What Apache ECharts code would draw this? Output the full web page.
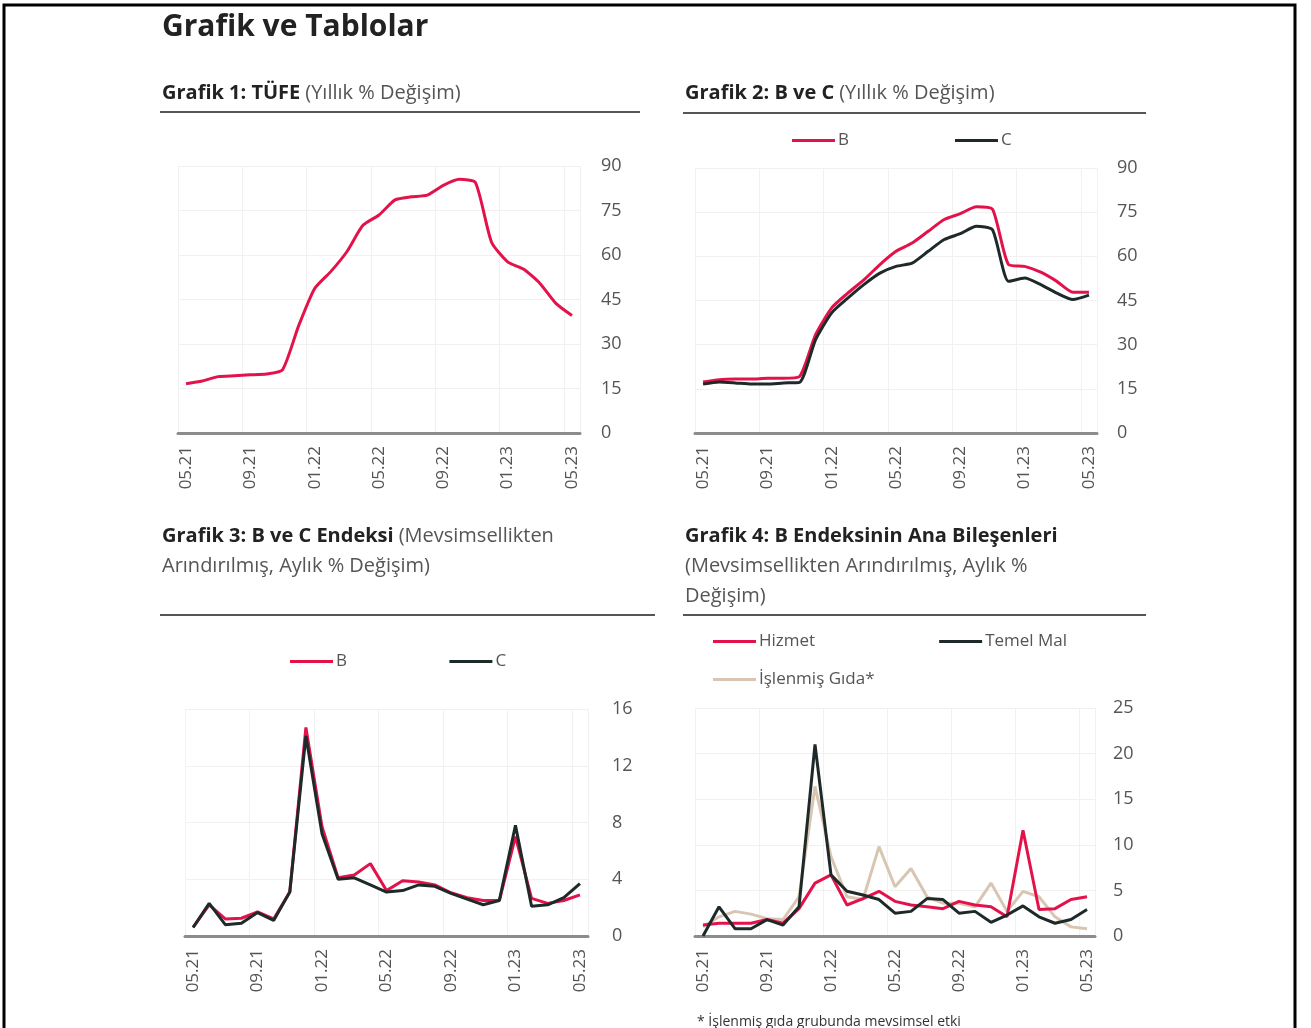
<!DOCTYPE html>
<html>
<head>
<meta charset="utf-8">
<script src="https://cdn.jsdelivr.net/npm/echarts@6/dist/echarts.min.js"></script>
<style>
  html, body { margin: 0; padding: 0; background: #fff; }
  #main { width: 1311px; height: 1028px; }
</style>
</head>
<body>
<div id="main"></div>
<script>
// aylar 05.21 - 05.23
var months = ['05.21','06.21','07.21','08.21','09.21','10.21','11.21','12.21',
              '01.22','02.22','03.22','04.22','05.22','06.22','07.22','08.22',
              '09.22','10.22','11.22','12.22','01.23','02.23','03.23','04.23','05.23'];

// Grafik 1: TÜFE yıllık
var tufe = [16.6, 17.5, 19.0, 19.3, 19.6, 19.9, 21.3, 36.1, 48.7, 54.4, 61.1, 70.0, 73.5,
            78.6, 79.6, 80.2, 83.5, 85.5, 84.4, 64.3, 57.7, 55.2, 50.5, 43.7, 39.6];

// Grafik 2: B ve C yıllık
var bYillik = [17.3, 18.1, 18.3, 18.3, 18.6, 18.6, 19.2, 33.4, 42.5, 47.5, 52.0, 57.2, 61.7,
               64.5, 68.5, 72.5, 74.5, 76.8, 76.0, 57.2, 56.6, 54.6, 51.5, 47.8, 47.8];
var cYillik = [16.6, 17.3, 17.0, 16.6, 16.6, 17.0, 17.2, 31.7, 40.8, 45.8, 50.4, 54.3, 56.6,
               57.7, 61.7, 65.7, 67.7, 70.2, 69.0, 51.5, 52.6, 50.4, 47.5, 45.3, 46.8];

// Grafik 3: B ve C aylık (mevsimsellikten arındırılmış)
var bAylik = [0.6, 2.2, 1.2, 1.25, 1.7, 1.2, 3.1, 14.7, 7.7, 4.1, 4.3, 5.1, 3.2,
              3.9, 3.8, 3.6, 3.05, 2.7, 2.5, 2.5, 7.0, 2.65, 2.3, 2.5, 2.9];
var cAylik = [0.6, 2.3, 0.8, 0.9, 1.65, 1.1, 3.1, 14.1, 7.2, 4.0, 4.1, 3.6, 3.1,
              3.2, 3.6, 3.5, 3.0, 2.6, 2.2, 2.5, 7.8, 2.1, 2.2, 2.7, 3.7];

// Grafik 4: B ana bileşenleri
var hizmet = [1.2, 1.4, 1.4, 1.4, 1.8, 1.4, 3.0, 5.8, 6.7, 3.4, 4.1, 4.9, 3.8,
              3.4, 3.2, 3.0, 3.8, 3.4, 3.2, 2.1, 11.6, 2.9, 3.0, 4.0, 4.3];
var temelMal = [0.0, 3.2, 0.8, 0.8, 1.8, 1.2, 3.2, 21.0, 6.7, 4.9, 4.5, 4.0, 2.5,
                2.7, 4.1, 4.0, 2.5, 2.7, 1.5, 2.3, 3.3, 2.1, 1.4, 1.8, 2.9];
var islenmisGida = [1.0, 2.1, 2.7, 2.4, 1.9, 1.8, 4.3, 16.4, 8.7, 4.3, 4.0, 9.8, 5.4,
                    7.4, 4.3, 3.6, 3.6, 3.2, 5.8, 2.7, 4.9, 4.3, 2.1, 1.0, 0.8];

var RED = '#e3124a';
var DARK = '#1e2a2a';
var TAN = '#d8c6b2';
var FONT = '"Open Sans", "Noto Sans", sans-serif';

var chart = echarts.init(document.getElementById('main'));

function xAx(i) {
    return {
        type: 'category', gridIndex: i, data: months, boundaryGap: true,
        axisLine: { lineStyle: { color: '#8c8c8c', width: 3 } },
        axisTick: { show: false },
        axisLabel: { rotate: 90, interval: 3, fontSize: 17, color: '#555', margin: 13, fontFamily: FONT },
        splitLine: { show: true, interval: 3, lineStyle: { color: '#f1f1f1', width: 1 } }
    };
}
function yAx(i, max, step, margin) {
    return {
        type: 'value', gridIndex: i, position: 'right', min: 0, max: max, interval: step,
        axisLine: { show: false }, axisTick: { show: false },
        axisLabel: { fontSize: 18, color: '#555', margin: margin, fontFamily: FONT },
        splitLine: { lineStyle: { color: '#f1f1f1', width: 1 } }
    };
}
function line(name, data, i, color, smooth) {
    return {
        name: name, type: 'line', xAxisIndex: i, yAxisIndex: i, data: data,
        symbol: 'none', smooth: smooth, lineStyle: { color: color, width: 3 },
        itemStyle: { color: color }, animation: false
    };
}
function legend(names, left, top, gap) {
    return {
        data: names, left: left, top: top, itemGap: gap, icon: 'rect',
        itemWidth: 43, itemHeight: 3,
        textStyle: { fontSize: 17, color: '#555', fontFamily: FONT, padding: [0, 0, 0, -2] }
    };
}
var rich = {
    b: { fontSize: 20, fontWeight: 'bold', color: '#222', fontFamily: FONT, lineHeight: 30 },
    n: { fontSize: 20, fontWeight: 'normal', color: '#555', fontFamily: FONT, lineHeight: 30 }
};
function sep(x1, x2, y) {
    return { type: 'line', shape: { x1: x1, y1: y, x2: x2, y2: y },
             style: { stroke: '#555', lineWidth: 2 } };
}

chart.setOption({
    backgroundColor: '#fff',
    title: [
        { text: 'Grafik ve Tablolar', left: 157, top: 7,
          textStyle: { fontSize: 30, fontWeight: 'bold', color: '#222', fontFamily: FONT } },
        { text: '{b|Grafik 1: TÜFE} {n|(Yıllık % Değişim)}', left: 157, top: 73, textStyle: { rich: rich } },
        { text: '{b|Grafik 2: B ve C} {n|(Yıllık % Değişim)}', left: 680, top: 73, textStyle: { rich: rich } },
        { text: '{b|Grafik 3: B ve C Endeksi} {n|(Mevsimsellikten}\n{n|Arındırılmış, Aylık % Değişim)}',
          left: 157, top: 516, textStyle: { rich: rich } },
        { text: '{b|Grafik 4: B Endeksinin Ana Bileşenleri}\n{n|(Mevsimsellikten Arındırılmış, Aylık %}\n{n|Değişim)}',
          left: 680, top: 516, textStyle: { rich: rich } },
        { text: '* İşlenmiş gıda grubunda mevsimsel etki', left: 692, top: 1010,
          textStyle: { fontSize: 14, fontWeight: 'normal', color: '#333', fontFamily: FONT } }
    ],
    legend: [
        legend(['B', 'C'], 787, 127, 106),
        legend(['B ', 'C '], 285, 648, 98),
        legend(['Hizmet', 'Temel Mal'], 708, 628, 124),
        legend(['İşlenmiş Gıda*'], 708, 666, 10)
    ],
    grid: [
        { left: 178, top: 166, width: 402, height: 267 },
        { left: 695, top: 168, width: 402, height: 265 },
        { left: 185, top: 709, width: 403, height: 227 },
        { left: 695, top: 708, width: 400, height: 228 }
    ],
    xAxis: [xAx(0), xAx(1), xAx(2), xAx(3)],
    yAxis: [yAx(0, 90, 15, 21), yAx(1, 90, 15, 20), yAx(2, 16, 4, 24), yAx(3, 25, 5, 18)],
    series: [
        line('TÜFE', tufe, 0, RED, 0.2),
        line('B', bYillik, 1, RED, 0.2),
        line('C', cYillik, 1, DARK, 0.2),
        line('B ', bAylik, 2, RED, false),
        line('C ', cAylik, 2, DARK, false),
        line('İşlenmiş Gıda*', islenmisGida, 3, TAN, false),
        line('Hizmet', hizmet, 3, RED, false),
        line('Temel Mal', temelMal, 3, DARK, false)
    ],
    graphic: [
        sep(160, 640, 112),
        sep(683, 1146, 113),
        sep(160, 655, 615),
        sep(683, 1146, 615),
        { type: 'rect', shape: { x: 4, y: 5, width: 1291, height: 1100 },
          style: { fill: 'none', stroke: '#000', lineWidth: 3 }, z: 100 }
    ]
});
</script>
</body>
</html>
